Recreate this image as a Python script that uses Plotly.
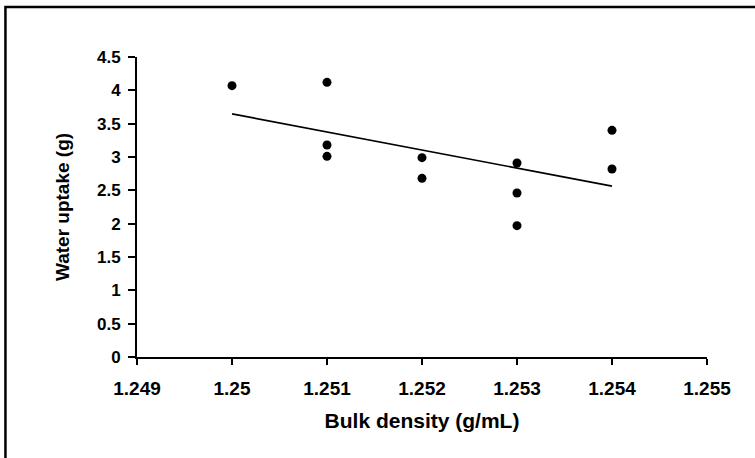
import numpy as np
import plotly.graph_objects as go

# Data
bulk_density = [1.250, 1.251, 1.251, 1.251, 1.252, 1.252, 1.253, 1.253, 1.253, 1.254, 1.254]
water_uptake = [4.07, 4.12, 3.18, 3.01, 2.99, 2.68, 2.91, 2.46, 1.97, 3.40, 2.82]

x_ticks = [1.249, 1.25, 1.251, 1.252, 1.253, 1.254, 1.255]
x_tick_labels = ["1.249", "1.25", "1.251", "1.252", "1.253", "1.254", "1.255"]
y_ticks = [0, 0.5, 1, 1.5, 2, 2.5, 3, 3.5, 4, 4.5]
y_tick_labels = ["0", "0.5", "1", "1.5", "2", "2.5", "3", "3.5", "4", "4.5"]

# Linear trend line (least squares)
xa = np.array(bulk_density)
ya = np.array(water_uptake)
slope, intercept = np.polyfit(xa - 1.25, ya, 1)
trend_x = np.array([min(bulk_density), max(bulk_density)])
trend_y = slope * (trend_x - 1.25) + intercept

FONT = "Liberation Sans, Arial, sans-serif"

fig = go.Figure()
fig.add_trace(go.Scatter(
    x=trend_x, y=trend_y, mode="lines",
    line=dict(color="black", width=1.7), showlegend=False, hoverinfo="skip"))
fig.add_trace(go.Scatter(
    x=bulk_density, y=water_uptake, mode="markers",
    marker=dict(color="black", size=9, symbol="circle"), showlegend=False))

fig.update_layout(
    width=755, height=458,
    margin=dict(l=137, r=48, t=57, b=101),
    paper_bgcolor="white", plot_bgcolor="white",
    font=dict(family=FONT, color="black"),
    xaxis=dict(
        range=[1.249, 1.255], tickmode="array", tickvals=x_ticks, ticktext=x_tick_labels,
        showgrid=False, zeroline=False, showline=True, linecolor="black", linewidth=2,
        ticks="outside", ticklen=6, tickwidth=2, tickcolor="black",
        tickfont=dict(family=FONT, size=19, color="black", weight="bold"),
        ticklabelstandoff=7,
        title=dict(text="<b>Bulk density (g/mL)</b>", font=dict(family=FONT, size=21, color="black"),
                   standoff=16),
    ),
    yaxis=dict(
        range=[0, 4.5], tickmode="array", tickvals=y_ticks, ticktext=y_tick_labels,
        showgrid=False, zeroline=False, showline=True, linecolor="black", linewidth=2,
        ticks="outside", ticklen=7, tickwidth=2, tickcolor="black",
        tickfont=dict(family=FONT, size=17, color="black", weight="bold"),
        ticklabelstandoff=4,
        title=dict(text="<b>Water uptake (g)</b>", font=dict(family=FONT, size=19, color="black"),
                   standoff=22),
    ),
    shapes=[dict(type="rect", xref="paper", yref="paper",
                 x0=-0.2308, x1=1.09, y0=-0.36, y1=1.1667,
                 line=dict(color="black", width=2.5), layer="below")],
)

fig.write_html("out.html", config={"displayModeBar": False},
               post_script="document.body.style.margin='0';")
